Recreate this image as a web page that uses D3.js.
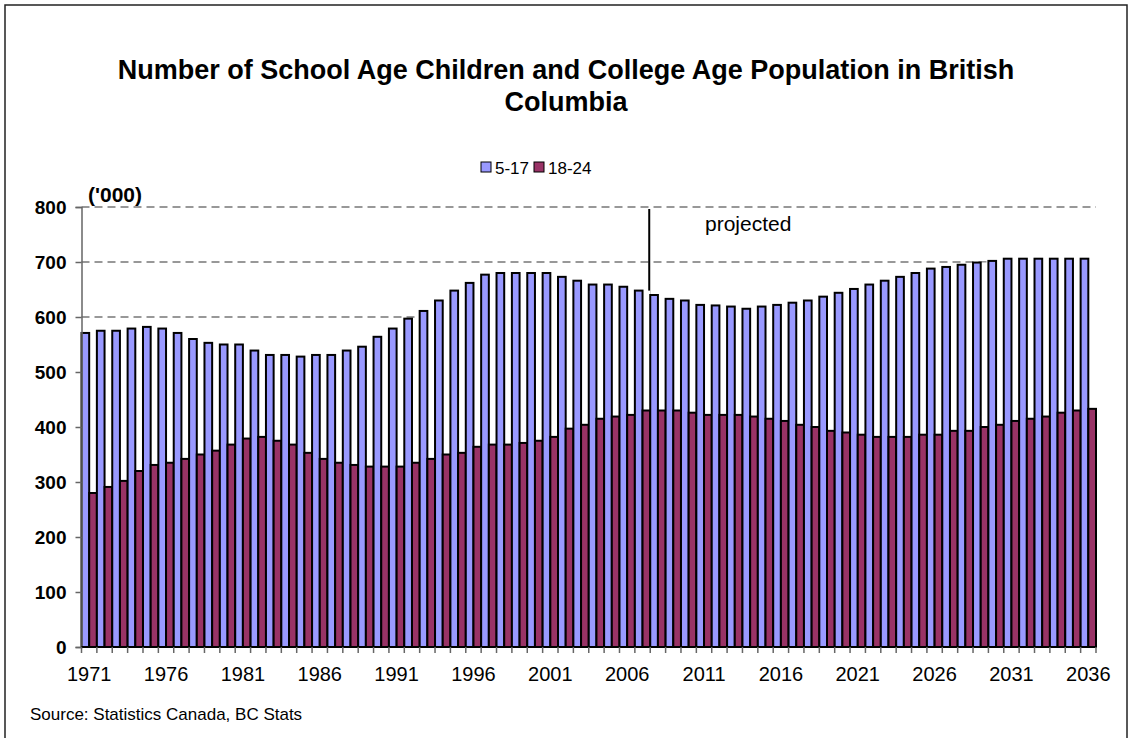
<!DOCTYPE html>
<html>
<head>
<meta charset="utf-8">
<script src="https://cdn.jsdelivr.net/npm/d3@7"></script>
<style>
  body { margin: 0; background: #fff; }
  svg text { font-family: Arial, "Liberation Sans", sans-serif; }
</style>
</head>
<body>
<svg id="chart" width="1132" height="738"></svg>
<script>
var years = d3.range(1971, 2037);

// thousands of persons
var age5to17 = [571, 575, 575, 579, 582, 579, 571, 560, 553, 550,
                550, 539, 531, 531, 528, 531, 531, 539, 546, 564,
                579, 597, 611, 630, 648, 662, 677, 680, 680, 680,
                680, 673, 666, 659, 659, 655, 648, 640, 633, 630,
                622, 621, 619, 615, 619, 622, 626, 630, 637, 644,
                651, 659, 666, 673, 680, 688, 691, 695, 699, 702,
                706, 706, 706, 706, 706, 706];

var age18to24 = [280, 291, 302, 320, 331, 335, 342, 350, 357, 368,
                 379, 382, 375, 368, 353, 342, 335, 331, 328, 328,
                 328, 335, 342, 350, 353, 364, 368, 368, 371, 375,
                 382, 397, 404, 415, 419, 422, 430, 430, 430, 426,
                 422, 422, 422, 419, 415, 411, 404, 400, 393, 390,
                 386, 382, 382, 382, 386, 386, 393, 393, 400, 404,
                 411, 415, 419, 426, 430, 433];

var seriesNames = ["5-17", "18-24"];
var seriesColors = ["#9999ff", "#993366"];
var yTicks = [0, 100, 200, 300, 400, 500, 600, 700, 800];
var labelYears = d3.range(1971, 2037, 5);
var projectedFrom = 2008;

var rows = years.map(function (yr, i) {
    return {year: yr, values: [age5to17[i], age18to24[i]]};
});

var svg = d3.select("#chart");
// note: "top" is taken by window.top, so plot edges get their own names
var plotLeft = 81.5, plotRight = 1096, plotTop = 207, plotBottom = 647;

var x = d3.scaleBand().domain(years).range([plotLeft, plotRight]).padding(0);
var xSub = d3.scaleBand().domain([0, 1]).range([0, x.bandwidth()]).padding(0);
var y = d3.scaleLinear().domain([0, 800]).range([plotBottom, plotTop]);

// outer frame
svg.append("rect")
    .attr("x", 5).attr("y", 5)
    .attr("width", 1122).attr("height", 780)
    .attr("fill", "none")
    .attr("stroke", "#222")
    .attr("stroke-width", 1.5);

// title
svg.append("text")
    .attr("x", 566).attr("y", 79)
    .attr("text-anchor", "middle")
    .style("font-size", "27px").style("font-weight", "bold")
    .text("Number of School Age Children and College Age Population in British");
svg.append("text")
    .attr("x", 566).attr("y", 111)
    .attr("text-anchor", "middle")
    .style("font-size", "27px").style("font-weight", "bold")
    .text("Columbia");

// legend
var legend = svg.append("g").attr("transform", "translate(481,162)");
var lx = [0, 53];
seriesNames.forEach(function (name, i) {
    legend.append("rect")
        .attr("x", lx[i]).attr("y", 0)
        .attr("width", 10).attr("height", 10)
        .attr("fill", seriesColors[i])
        .attr("stroke", "#000").attr("stroke-width", 1);
    legend.append("text")
        .attr("x", lx[i] + 14).attr("y", 12)
        .style("font-size", "17px")
        .text(name);
});

// unit label
svg.append("text")
    .attr("x", 88).attr("y", 202)
    .style("font-size", "21px").style("font-weight", "bold")
    .text("('000)");

// gridlines
svg.append("g")
    .selectAll("line")
    .data(yTicks.filter(function (d) { return d > 0; }))
    .enter().append("line")
    .attr("x1", plotLeft).attr("x2", plotRight)
    .attr("y1", function (d) { return y(d); })
    .attr("y2", function (d) { return y(d); })
    .attr("stroke", "#777")
    .attr("stroke-width", 1.3)
    .attr("stroke-dasharray", "8,5");

// projected marker
svg.append("line")
    .attr("x1", x(projectedFrom) - 1).attr("x2", x(projectedFrom) - 1)
    .attr("y1", y(800) + 2).attr("y2", y(0))
    .attr("stroke", "#000").attr("stroke-width", 2);
svg.append("text")
    .attr("x", 705).attr("y", 231)
    .style("font-size", "21px")
    .text("projected");

// category background hides gridlines behind each column pair
svg.append("g")
    .selectAll("rect")
    .data(rows)
    .enter().append("rect")
    .attr("x", function (d) { return x(d.year); })
    .attr("width", x.bandwidth())
    .attr("y", function (d) { return y(d3.max(d.values)); })
    .attr("height", function (d) { return y(0) - y(d3.max(d.values)); })
    .attr("fill", "#fff");

// bars
var groups = svg.append("g")
    .selectAll("g")
    .data(rows)
    .enter().append("g")
    .attr("transform", function (d) { return "translate(" + x(d.year) + ",0)"; });

groups.selectAll("rect")
    .data(function (d) { return d.values; })
    .enter().append("rect")
    .attr("x", function (d, i) { return xSub(i); })
    .attr("width", xSub.bandwidth())
    .attr("y", function (d) { return y(d); })
    .attr("height", function (d) { return y(0) - y(d); })
    .attr("fill", function (d, i) { return seriesColors[i]; })
    .attr("stroke", "#000")
    .attr("stroke-width", 2);

// y axis
var yAxis = svg.append("g")
    .attr("transform", "translate(" + plotLeft + ",0)")
    .call(d3.axisLeft(y).tickValues(yTicks).tickSize(6).tickPadding(9));
yAxis.select(".domain").attr("stroke", "#666").attr("stroke-width", 1.5);
yAxis.selectAll(".tick line").attr("stroke", "#666").attr("stroke-width", 1.5);
yAxis.selectAll("text")
    .style("font-size", "19px").style("font-weight", "bold")
    .attr("fill", "#000");

// x axis
var xAxis = svg.append("g")
    .attr("transform", "translate(0," + plotBottom + ")")
    .call(d3.axisBottom(x).tickValues(labelYears).tickSize(0).tickPadding(20));
xAxis.select(".domain").remove();
xAxis.selectAll("text").style("font-size", "20px").attr("fill", "#000");

svg.append("line")
    .attr("x1", plotLeft).attr("x2", plotRight)
    .attr("y1", plotBottom).attr("y2", plotBottom)
    .attr("stroke", "#000").attr("stroke-width", 2);

svg.append("g")
    .selectAll("line")
    .data(years.concat([null]))
    .enter().append("line")
    .attr("x1", function (d) { return d === null ? plotRight : x(d); })
    .attr("x2", function (d) { return d === null ? plotRight : x(d); })
    .attr("y1", plotBottom).attr("y2", plotBottom + 6)
    .attr("stroke", "#666").attr("stroke-width", 1.5);

// source note
svg.append("text")
    .attr("x", 30).attr("y", 720)
    .style("font-size", "17px")
    .text("Source: Statistics Canada, BC Stats");
</script>
</body>
</html>
